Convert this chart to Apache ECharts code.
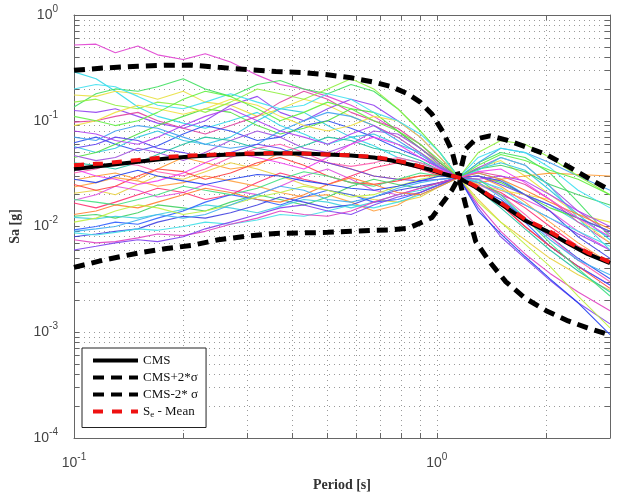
<!DOCTYPE html>
<html>
<head>
<meta charset="utf-8">
<script src="https://cdn.jsdelivr.net/npm/echarts@6/dist/echarts.min.js"></script>
<style>
  html, body { margin: 0; padding: 0; background: #fff; }
  #chart { width: 621px; height: 500px; }
</style>
</head>
<body>
<div id="chart"></div>
<script>
// Periods (s) at which the scaled ground-motion spectra are sampled
const periods = [0.10, 0.115, 0.13, 0.15, 0.17, 0.2, 0.23, 0.27, 0.32, 0.37, 0.43, 0.5,
                 0.58, 0.67, 0.78, 0.9, 1.02, 1.15, 1.3, 1.5, 1.75, 2.05, 2.45, 3.0];

// Scaled response spectra of the selected records, Sa [g]
const rec01 = [0.52, 0.53, 0.44, 0.51, 0.42, 0.38, 0.43, 0.36, 0.27, 0.22, 0.2, 0.17, 0.14, 0.11, 0.08, 0.055, 0.04, 0.029, 0.022, 0.016, 0.010, 0.0065, 0.0042, 0.0028];
const rec02 = [0.29, 0.25, 0.19, 0.135, 0.11, 0.095, 0.085, 0.1, 0.12, 0.09, 0.075, 0.06, 0.07, 0.058, 0.045, 0.04, 0.034, 0.029, 0.032, 0.028, 0.02, 0.016, 0.011, 0.008];
const rec03 = [0.135, 0.18, 0.2, 0.19, 0.21, 0.25, 0.2, 0.17, 0.22, 0.24, 0.2, 0.18, 0.22, 0.19, 0.13, 0.08, 0.05, 0.029, 0.04, 0.05, 0.045, 0.032, 0.017, 0.008];
const rec04 = [0.175, 0.17, 0.19, 0.18, 0.16, 0.19, 0.15, 0.14, 0.11, 0.13, 0.16, 0.14, 0.11, 0.09, 0.07, 0.05, 0.038, 0.029, 0.036, 0.042, 0.03, 0.02, 0.013, 0.011];
const rec05 = [0.125, 0.12, 0.13, 0.11, 0.095, 0.085, 0.1, 0.14, 0.17, 0.12, 0.1, 0.13, 0.16, 0.14, 0.1, 0.07, 0.045, 0.029, 0.026, 0.02, 0.016, 0.012, 0.0085, 0.006];
const rec06 = [0.097, 0.1, 0.11, 0.12, 0.1, 0.085, 0.075, 0.09, 0.11, 0.15, 0.19, 0.16, 0.12, 0.1, 0.085, 0.06, 0.04, 0.029, 0.033, 0.03, 0.025, 0.018, 0.011, 0.007];
const rec07 = [0.062, 0.07, 0.06, 0.052, 0.058, 0.075, 0.09, 0.08, 0.065, 0.07, 0.09, 0.1, 0.085, 0.07, 0.055, 0.045, 0.036, 0.029, 0.023, 0.018, 0.012, 0.008, 0.005, 0.0032];
const rec08 = [0.057, 0.05, 0.055, 0.07, 0.08, 0.065, 0.06, 0.07, 0.1, 0.13, 0.12, 0.09, 0.07, 0.075, 0.06, 0.05, 0.037, 0.029, 0.035, 0.04, 0.034, 0.022, 0.013, 0.0075];
const rec09 = [0.045, 0.05, 0.06, 0.075, 0.09, 0.11, 0.13, 0.12, 0.09, 0.075, 0.085, 0.1, 0.13, 0.12, 0.08, 0.055, 0.04, 0.029, 0.03, 0.026, 0.02, 0.015, 0.012, 0.009];
const rec10 = [0.047, 0.042, 0.045, 0.055, 0.05, 0.042, 0.05, 0.065, 0.08, 0.07, 0.055, 0.05, 0.06, 0.08, 0.075, 0.055, 0.038, 0.029, 0.036, 0.045, 0.038, 0.024, 0.014, 0.0085];
const rec11 = [0.0275, 0.03, 0.032, 0.028, 0.035, 0.045, 0.04, 0.035, 0.038, 0.05, 0.045, 0.04, 0.035, 0.03, 0.028, 0.03, 0.03, 0.029, 0.026, 0.028, 0.03, 0.032, 0.031, 0.03];
const rec12 = [0.0206, 0.022, 0.02, 0.025, 0.03, 0.028, 0.033, 0.04, 0.035, 0.03, 0.025, 0.022, 0.02, 0.018, 0.017, 0.019, 0.024, 0.029, 0.018, 0.011, 0.0075, 0.005, 0.0035, 0.0025];
const rec13 = [0.0177, 0.02, 0.024, 0.022, 0.019, 0.021, 0.025, 0.022, 0.02, 0.024, 0.03, 0.035, 0.028, 0.022, 0.02, 0.023, 0.026, 0.029, 0.028, 0.022, 0.018, 0.014, 0.009, 0.006];
const rec14 = [0.0167, 0.015, 0.017, 0.02, 0.023, 0.021, 0.018, 0.02, 0.026, 0.032, 0.028, 0.025, 0.03, 0.036, 0.04, 0.035, 0.03, 0.029, 0.025, 0.021, 0.015, 0.01, 0.0065, 0.0045];
const rec15 = [0.0236, 0.026, 0.029, 0.027, 0.024, 0.026, 0.03, 0.027, 0.024, 0.021, 0.019, 0.02, 0.017, 0.014, 0.016, 0.021, 0.025, 0.029, 0.03, 0.024, 0.017, 0.011, 0.007, 0.0045];
const rec16 = [0.0125, 0.013, 0.012, 0.0135, 0.016, 0.015, 0.014, 0.017, 0.02, 0.018, 0.016, 0.019, 0.024, 0.028, 0.025, 0.023, 0.026, 0.029, 0.035, 0.038, 0.033, 0.025, 0.02, 0.016];
const rec17 = [0.0122, 0.0118, 0.0125, 0.012, 0.013, 0.0145, 0.016, 0.015, 0.0135, 0.0155, 0.018, 0.017, 0.015, 0.017, 0.02, 0.022, 0.025, 0.029, 0.034, 0.045, 0.038, 0.024, 0.012, 0.006];
const rec18 = [0.0093, 0.01, 0.011, 0.0105, 0.012, 0.014, 0.017, 0.02, 0.018, 0.016, 0.019, 0.022, 0.02, 0.017, 0.018, 0.021, 0.025, 0.029, 0.024, 0.017, 0.011, 0.0065, 0.0042, 0.0028];
const rec19 = [0.008, 0.0085, 0.009, 0.0095, 0.011, 0.0125, 0.012, 0.0135, 0.016, 0.019, 0.017, 0.015, 0.016, 0.019, 0.022, 0.024, 0.026, 0.029, 0.03, 0.027, 0.02, 0.014, 0.008, 0.005];
const rec20 = [0.0087, 0.0083, 0.0088, 0.0095, 0.0092, 0.01, 0.011, 0.0105, 0.0115, 0.013, 0.0125, 0.014, 0.016, 0.015, 0.017, 0.02, 0.024, 0.029, 0.027, 0.023, 0.016, 0.012, 0.009, 0.0065];
const rec21 = [0.0075, 0.007, 0.0072, 0.0078, 0.0085, 0.0082, 0.009, 0.0105, 0.012, 0.014, 0.013, 0.0125, 0.014, 0.017, 0.02, 0.023, 0.026, 0.029, 0.016, 0.009, 0.0055, 0.0036, 0.0024, 0.0016];
const rec22 = [0.006, 0.0065, 0.007, 0.0075, 0.0072, 0.008, 0.0095, 0.011, 0.013, 0.015, 0.016, 0.014, 0.013, 0.016, 0.019, 0.021, 0.025, 0.029, 0.015, 0.008, 0.005, 0.0031, 0.0019, 0.0012];
const rec23 = [0.07, 0.065, 0.08, 0.09, 0.085, 0.07, 0.06, 0.055, 0.06, 0.08, 0.1, 0.12, 0.11, 0.09, 0.065, 0.048, 0.036, 0.029, 0.04, 0.055, 0.05, 0.04, 0.03, 0.022];
const rec24 = [0.15, 0.16, 0.14, 0.13, 0.15, 0.14, 0.12, 0.15, 0.2, 0.18, 0.16, 0.2, 0.25, 0.2, 0.13, 0.08, 0.05, 0.029, 0.05, 0.065, 0.06, 0.045, 0.03, 0.02];
const rec25 = [0.04, 0.038, 0.035, 0.04, 0.048, 0.06, 0.07, 0.065, 0.055, 0.05, 0.058, 0.07, 0.065, 0.055, 0.05, 0.042, 0.034, 0.029, 0.022, 0.015, 0.0095, 0.006, 0.0038, 0.0024];
const rec26 = [0.032, 0.035, 0.04, 0.038, 0.033, 0.03, 0.035, 0.045, 0.055, 0.06, 0.05, 0.04, 0.037, 0.04, 0.045, 0.04, 0.034, 0.029, 0.025, 0.02, 0.013, 0.008, 0.0048, 0.003];
const rec27 = [0.09, 0.1, 0.12, 0.14, 0.13, 0.115, 0.13, 0.16, 0.14, 0.11, 0.09, 0.08, 0.09, 0.11, 0.1, 0.07, 0.045, 0.029, 0.025, 0.022, 0.02, 0.018, 0.012, 0.007];
const rec28 = [0.055, 0.06, 0.07, 0.065, 0.055, 0.05, 0.045, 0.05, 0.06, 0.055, 0.045, 0.04, 0.035, 0.03, 0.028, 0.027, 0.028, 0.029, 0.03, 0.025, 0.02, 0.016, 0.012, 0.009];
const rec29 = [0.025, 0.022, 0.024, 0.03, 0.035, 0.033, 0.028, 0.032, 0.04, 0.045, 0.038, 0.03, 0.026, 0.025, 0.027, 0.03, 0.031, 0.029, 0.024, 0.016, 0.01, 0.0065, 0.0042, 0.0026];
const rec30 = [0.018, 0.017, 0.016, 0.018, 0.02, 0.024, 0.022, 0.02, 0.023, 0.028, 0.033, 0.03, 0.026, 0.024, 0.028, 0.032, 0.03, 0.029, 0.028, 0.02, 0.012, 0.007, 0.004, 0.0022];
const rec31 = [0.2, 0.22, 0.21, 0.17, 0.14, 0.13, 0.15, 0.18, 0.15, 0.13, 0.14, 0.18, 0.16, 0.12, 0.1, 0.075, 0.05, 0.029, 0.045, 0.055, 0.05, 0.036, 0.022, 0.015];
const rec32 = [0.08, 0.075, 0.065, 0.06, 0.07, 0.09, 0.11, 0.13, 0.1, 0.08, 0.07, 0.06, 0.075, 0.09, 0.07, 0.05, 0.036, 0.029, 0.028, 0.03, 0.027, 0.02, 0.014, 0.01];
const rec33 = [0.013, 0.014, 0.016, 0.015, 0.017, 0.02, 0.023, 0.021, 0.018, 0.017, 0.02, 0.025, 0.029, 0.025, 0.021, 0.02, 0.024, 0.029, 0.032, 0.028, 0.022, 0.017, 0.013, 0.0095];
const rec34 = [0.035, 0.03, 0.028, 0.025, 0.027, 0.032, 0.04, 0.05, 0.045, 0.04, 0.035, 0.045, 0.06, 0.07, 0.06, 0.045, 0.035, 0.029, 0.033, 0.035, 0.026, 0.018, 0.012, 0.008];
const rec35 = [0.011, 0.012, 0.014, 0.016, 0.015, 0.013, 0.014, 0.016, 0.019, 0.021, 0.024, 0.022, 0.019, 0.02, 0.024, 0.028, 0.03, 0.029, 0.017, 0.011, 0.0068, 0.0042, 0.0022, 0.0011];
const rec36 = [0.028, 0.026, 0.03, 0.034, 0.03, 0.027, 0.025, 0.028, 0.031, 0.03, 0.027, 0.025, 0.023, 0.022, 0.024, 0.027, 0.03, 0.029, 0.014, 0.0085, 0.0052, 0.0032, 0.0019, 0.00095];
const rec37 = [0.009, 0.0095, 0.01, 0.0115, 0.013, 0.012, 0.013, 0.016, 0.02, 0.024, 0.022, 0.018, 0.017, 0.019, 0.023, 0.026, 0.028, 0.029, 0.026, 0.019, 0.012, 0.0075, 0.0048, 0.0035];
const rec38 = [0.11, 0.1, 0.09, 0.1, 0.12, 0.16, 0.19, 0.17, 0.13, 0.1, 0.12, 0.15, 0.13, 0.1, 0.08, 0.06, 0.042, 0.029, 0.038, 0.048, 0.042, 0.034, 0.028, 0.02];

const records = [rec01, rec02, rec03, rec04, rec05, rec06, rec07, rec08, rec09, rec10,
                 rec11, rec12, rec13, rec14, rec15, rec16, rec17, rec18, rec19, rec20,
                 rec21, rec22, rec23, rec24, rec25, rec26, rec27, rec28, rec29, rec30,
                 rec31, rec32, rec33, rec34, rec35, rec36, rec37, rec38];

// Periods (s) for the conditional mean spectrum and its bounds
const cmsPeriods = [0.1, 0.12, 0.15, 0.18, 0.21, 0.25, 0.3, 0.36, 0.43, 0.5, 0.58, 0.67, 0.75, 0.83,
                    0.9, 0.97, 1.04, 1.1, 1.15, 1.2, 1.28, 1.4, 1.55, 1.75, 2.0, 2.3, 2.6, 3.0];
const cms = [0.035, 0.0375, 0.041, 0.044, 0.046, 0.0475, 0.0485, 0.049, 0.049, 0.048, 0.047, 0.045, 0.042, 0.039,
             0.0365, 0.034, 0.0315, 0.030, 0.029, 0.0265, 0.0235, 0.019, 0.0152, 0.0114, 0.0091, 0.0069, 0.0055, 0.0045];
const cmsPlus2Sigma = [0.30, 0.315, 0.328, 0.335, 0.336, 0.32, 0.305, 0.292, 0.285, 0.272, 0.255, 0.232, 0.21, 0.18,
                       0.15, 0.115, 0.078, 0.052, 0.029, 0.054, 0.067, 0.072, 0.066, 0.057, 0.048, 0.037, 0.029, 0.022];
const cmsMinus2Sigma = [0.0041, 0.0048, 0.0056, 0.0062, 0.0066, 0.0075, 0.0081, 0.0086, 0.0087, 0.0088, 0.009, 0.0092, 0.0093, 0.0096,
                        0.0108, 0.0122, 0.017, 0.022, 0.029, 0.016, 0.0072, 0.0046, 0.0030, 0.0021, 0.0016, 0.00128, 0.0011, 0.00094];
const seMean = [0.038, 0.0395, 0.0425, 0.0455, 0.047, 0.048, 0.049, 0.0495, 0.049, 0.048, 0.047, 0.0455, 0.043, 0.04,
                0.037, 0.0345, 0.032, 0.0302, 0.029, 0.027, 0.024, 0.0195, 0.0156, 0.0117, 0.0094, 0.0071, 0.0057, 0.0046];

// Axis tick positions
const xTickValues = [0.1, 0.2, 0.3, 0.4, 0.5, 0.6, 0.7, 0.8, 0.9, 1, 2, 3];
const xLabelValues = [0.1, 1];
const yTickValues = [0.0001, 0.0002, 0.0003, 0.0004, 0.0005, 0.0006, 0.0007, 0.0008, 0.0009,
                     0.001, 0.002, 0.003, 0.004, 0.005, 0.006, 0.007, 0.008, 0.009,
                     0.01, 0.02, 0.03, 0.04, 0.05, 0.06, 0.07, 0.08, 0.09,
                     0.1, 0.2, 0.3, 0.4, 0.5, 0.6, 0.7, 0.8, 0.9, 1];
const yLabelValues = [0.0001, 0.001, 0.01, 0.1, 1];

// Legend entries
const legendNames = ['CMS', 'CMS+2*σ', 'CMS-2* σ', 'Se - Mean'];

// Line colours for the individual records
const recordColors = ['#e040d0', '#30d8e8', '#40e060', '#e8e040', '#9040f0', '#e040a0', '#3050f0', '#30c8e0',
                      '#50e040', '#a050e0', '#ff9a30', '#e8d040', '#e050e0', '#ff3070', '#ffa040', '#40d060',
                      '#40d0e0', '#3060ff', '#4040e0', '#40e0e8', '#e040c0', '#8040f0', '#40a0f0', '#90f040',
                      '#20c0a0', '#ff60b0', '#f0e040', '#6040f0', '#ff4040', '#40e080', '#40e0f0', '#b040f0',
                      '#ff8030', '#f040f0', '#c0f040', '#2040f0', '#40b0f0', '#60f040'];

const pairs = (xs, ys) => xs.map((x, i) => [x, ys[i]]);
const powerLabel = v => '{b|10}{e|' + Math.round(Math.log10(v)) + '}';
const labelRich = {
  b: { fontSize: 14, lineHeight: 22, color: '#444', fontFamily: 'Liberation Sans' },
  e: { fontSize: 10, lineHeight: 10, verticalAlign: 'top', color: '#444', fontFamily: 'Liberation Sans' }
};
const gridDots = { color: '#9a9a9a', width: 1, type: [1, 4] };
const axisGray = '#666';

const chart = echarts.init(document.getElementById('chart'), null, { renderer: 'canvas' });

const series = records.map((rec, i) => ({
  type: 'line',
  xAxisIndex: 0, yAxisIndex: 0,
  data: pairs(periods, rec),
  showSymbol: false, symbol: 'none',
  silent: true,
  lineStyle: { width: 1.1, color: recordColors[i % recordColors.length], opacity: 0.9 },
  z: 2
}));

series.push({
  name: 'CMS', type: 'line', data: pairs(cmsPeriods, cms),
  symbol: 'none', lineStyle: { width: 4, color: '#000', type: 'solid' }, itemStyle: { color: '#000' }, z: 3
});
series.push({
  name: 'CMS+2*σ', type: 'line', data: pairs(cmsPeriods, cmsPlus2Sigma),
  symbol: 'none', lineStyle: { width: 5, color: '#000', type: [11, 7] }, itemStyle: { color: '#000' }, z: 4
});
series.push({
  name: 'CMS-2* σ', type: 'line', data: pairs(cmsPeriods, cmsMinus2Sigma),
  symbol: 'none', lineStyle: { width: 5, color: '#000', type: [11, 7] }, itemStyle: { color: '#000' }, z: 4
});
series.push({
  name: 'Se - Mean', type: 'line', data: pairs(cmsPeriods, seMean),
  symbol: 'none', lineStyle: { width: 4, color: '#ee1111', type: [10, 9] }, itemStyle: { color: '#ee1111' }, z: 5
});

const option = {
  animation: false,
  backgroundColor: '#fff',
  grid: { left: 74, right: 11, top: 15, bottom: 62, containLabel: false },
  legend: {
    data: legendNames,
    orient: 'vertical',
    left: 82, top: 348,
    padding: [6, 8, 8, 9],
    itemGap: 4,
    itemWidth: 45, itemHeight: 14,
    backgroundColor: '#fff',
    borderColor: '#222', borderWidth: 1,
    selectedMode: false,
    itemStyle: { opacity: 0, borderWidth: 0 },
    lineStyle: { width: 4 },
    formatter: name => name === 'Se - Mean' ? '{n|S}{s|e}{n| - Mean}' : '{n|' + name + '}',
    textStyle: {
      fontFamily: 'Liberation Serif', fontSize: 13, color: '#111',
      rich: {
        n: { fontFamily: 'Liberation Serif', fontSize: 13, lineHeight: 16, color: '#111' },
        s: { fontFamily: 'Liberation Serif', fontSize: 9, lineHeight: 8, verticalAlign: 'bottom', color: '#111' }
      }
    }
  },
  xAxis: [{
    type: 'log', logBase: 10, min: 0.1, max: 3, position: 'bottom',
    name: 'Period [s]', nameLocation: 'middle', nameGap: 40,
    nameTextStyle: { fontFamily: 'Liberation Serif', fontWeight: 'bold', fontSize: 14, color: '#333' },
    axisLine: { show: true, onZero: false, lineStyle: { color: axisGray, width: 1 } },
    axisTick: { show: true, inside: true, length: 5, customValues: xTickValues, lineStyle: { color: axisGray } },
    axisLabel: { show: true, customValues: xLabelValues, margin: 14, formatter: powerLabel, rich: labelRich },
    splitLine: { show: true, lineStyle: gridDots },
    minorTick: { show: false }, minorSplitLine: { show: false }
  }, {
    type: 'log', logBase: 10, min: 0.1, max: 3, position: 'top',
    axisLine: { show: true, onZero: false, lineStyle: { color: axisGray, width: 1 } },
    axisTick: { show: true, inside: true, length: 5, customValues: xTickValues, lineStyle: { color: axisGray } },
    axisLabel: { show: false },
    splitLine: { show: false }
  }],
  yAxis: [{
    type: 'log', logBase: 10, min: 0.0001, max: 1, position: 'left',
    name: 'Sa [g]', nameLocation: 'middle', nameGap: 52,
    nameTextStyle: { fontFamily: 'Liberation Serif', fontWeight: 'bold', fontSize: 14, color: '#333' },
    axisLine: { show: true, onZero: false, lineStyle: { color: axisGray, width: 1 } },
    axisTick: { show: true, inside: true, length: 5, customValues: yTickValues, lineStyle: { color: axisGray } },
    axisLabel: { show: true, customValues: yLabelValues, margin: 16, formatter: powerLabel, rich: labelRich },
    splitLine: { show: true, lineStyle: gridDots },
    minorTick: { show: false }, minorSplitLine: { show: false }
  }, {
    type: 'log', logBase: 10, min: 0.0001, max: 1, position: 'right',
    axisLine: { show: true, onZero: false, lineStyle: { color: axisGray, width: 1 } },
    axisTick: { show: true, inside: true, length: 5, customValues: yTickValues, lineStyle: { color: axisGray } },
    axisLabel: { show: false },
    splitLine: { show: false }
  }],
  series: series
};

chart.setOption(option);
</script>
</body>
</html>
